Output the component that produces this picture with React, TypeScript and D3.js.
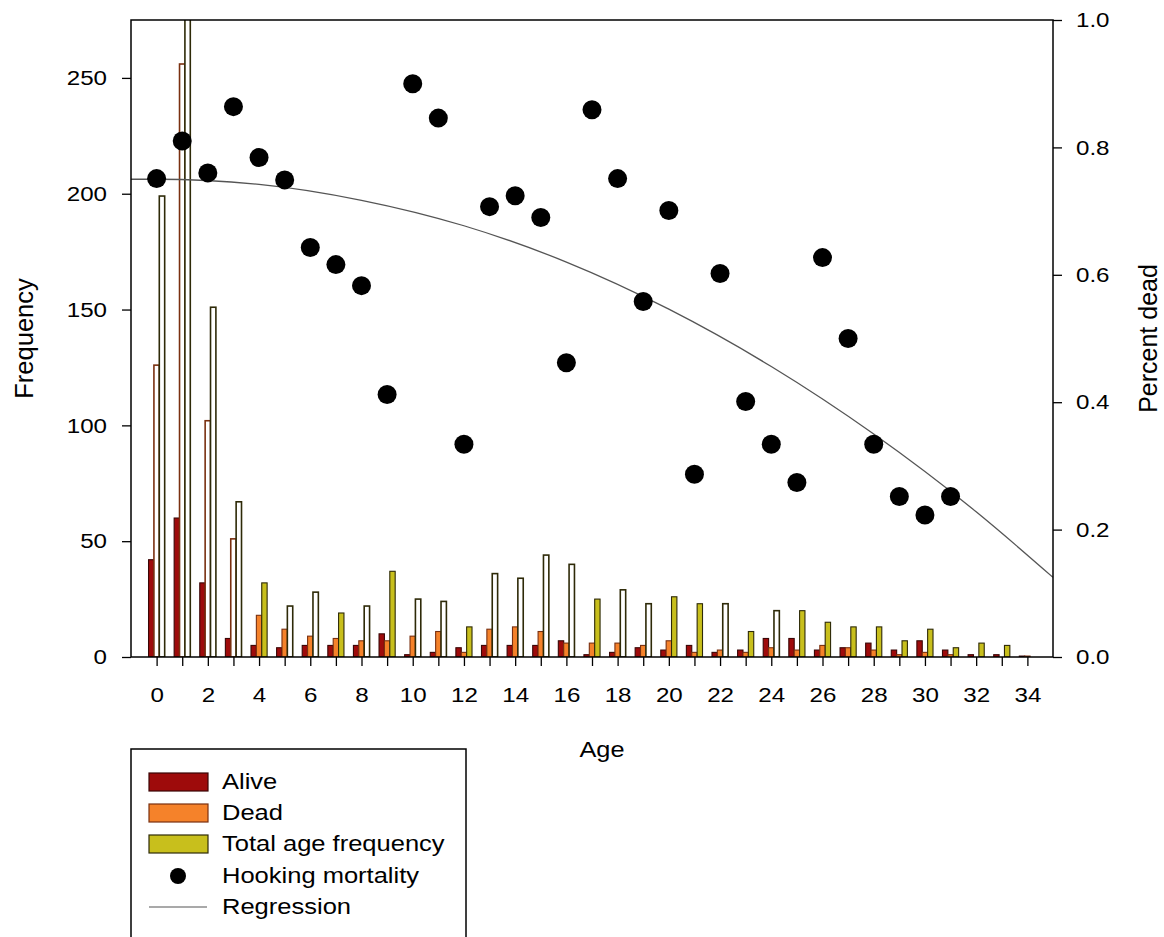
import { useEffect, useRef } from "react";
import * as d3 from "d3";

// ages 0..34
const ages = [0, 1, 2, 3, 4, 5, 6, 7, 8, 9, 10, 11, 12, 13, 14, 15, 16, 17, 18, 19, 20, 21, 22, 23, 24, 25, 26, 27, 28, 29, 30, 31, 32, 33, 34];
const alive = [42, 60, 32, 8, 5, 4, 5, 5, 5, 10, 1, 2, 4, 5, 5, 5, 7, 1, 2, 4, 3, 5, 2, 3, 8, 8, 3, 4, 6, 3, 7, 3, 1, 1, 0.4];
const dead = [126, 256, 102, 51, 18, 12, 9, 8, 7, 7, 9, 11, 2, 12, 13, 11, 6, 6, 6, 5, 7, 2, 3, 2, 4, 3, 5, 4, 3, 1, 2, 1, 0, 0, 0.4];
const totalFreq = [199, 276, 151, 67, 32, 22, 28, 19, 22, 37, 25, 24, 13, 36, 34, 44, 40, 25, 29, 23, 26, 23, 23, 11, 20, 20, 15, 13, 13, 7, 12, 4, 6, 5, 0];

// hooking mortality (percent dead), ages 0..31
const pctDead = [0.751, 0.81, 0.76, 0.864, 0.784, 0.749, 0.643, 0.616, 0.583, 0.412, 0.9, 0.846, 0.334, 0.707, 0.724, 0.69, 0.462, 0.859, 0.751, 0.558, 0.701, 0.287, 0.602, 0.401, 0.334, 0.274, 0.627, 0.5, 0.334, 0.252, 0.223, 0.252];

// regression curve
const regAges = [-1, 0, 4, 8, 12, 16, 20, 24, 28, 32, 35];
const regVals = [0.75, 0.75, 0.742, 0.717, 0.677, 0.62, 0.546, 0.456, 0.35, 0.228, 0.125];

// bars that print as outlines only in the scan
const hollowDead = [0, 1, 2, 3];
const hollowTotal = [0, 1, 2, 3, 5, 6, 8, 10, 11, 13, 14, 15, 16, 18, 19, 22, 24];

const leftTicks = [0, 50, 100, 150, 200, 250];
const rightTicks = [0, 0.2, 0.4, 0.6, 0.8, 1.0];

const FONT = "'Liberation Sans', Arial, sans-serif";
const SX = 1.15; // the scan's glyphs are a bit wide

const App = () => {
  const ref = useRef<SVGSVGElement>(null);

  useEffect(() => {
    const el = ref.current;
    if (!el) return;
    const svg = d3.select(el);
    svg.selectAll("*").remove();

    const L = 131, R = 1053, T = 20, B = 657;

    const x = d3.scaleLinear().domain([-1, 35]).range([L, R]);
    const yL = d3.scaleLinear().domain([0, 275]).range([B, T]);
    const yR = d3.scaleLinear().domain([0, 1]).range([B, T]);

    svg.append("defs").append("clipPath").attr("id", "plotClip")
      .append("rect").attr("x", L).attr("y", T).attr("width", R - L).attr("height", B - T);

    // ── Bars ─────────────────────────────────────────────
    const barW = x(0.21) - x(0);
    const series = [
      { name: "Alive", values: alive, fill: "#9e0b0b", stroke: "#3a0606", hollow: [] as number[] },
      { name: "Dead", values: dead, fill: "#f5822a", stroke: "#7a3010", hollow: hollowDead },
      { name: "Total age frequency", values: totalFreq, fill: "#c8bf1c", stroke: "#2e2a08", hollow: hollowTotal },
    ];

    const barsG = svg.append("g").attr("clip-path", "url(#plotClip)");
    series.forEach((s, i) => {
      barsG.selectAll(`.bar-${i}`)
        .data(ages.filter(a => s.values[a] > 0))
        .enter()
        .append("rect")
        .attr("x", a => x(a) + (i - 1.5) * barW)
        .attr("y", a => yL(s.values[a]))
        .attr("width", barW)
        .attr("height", a => yL(0) - yL(s.values[a]))
        .attr("fill", a => (s.hollow.includes(a) ? "#ffffff" : s.fill))
        .attr("stroke", s.stroke)
        .attr("stroke-width", a => (s.hollow.includes(a) ? 1.6 : 1.1));
    });

    // ── Regression ───────────────────────────────────────
    const line = d3.line<number>()
      .x((_, i) => x(regAges[i]))
      .y(d => yR(d))
      .curve(d3.curveMonotoneX);
    svg.append("path")
      .attr("d", line(regVals))
      .attr("fill", "none")
      .attr("stroke", "#555")
      .attr("stroke-width", 1.3);

    // ── Points ───────────────────────────────────────────
    svg.append("g").selectAll("circle")
      .data(pctDead)
      .enter()
      .append("circle")
      .attr("cx", (_, i) => x(ages[i]))
      .attr("cy", d => yR(d))
      .attr("r", 9.5)
      .attr("fill", "#000");

    // ── Axes ─────────────────────────────────────────────
    const styleAxis = (g: any) => {
      g.select(".domain").remove();
      g.selectAll("line").attr("stroke", "#000").attr("stroke-width", 1.3);
      g.selectAll("text")
        .style("font-family", FONT).style("font-size", "21px").attr("fill", "#000")
        .attr("x", function (this: SVGTextElement) { return +(this.getAttribute("x") || 0) / SX; })
        .attr("transform", `scale(${SX},1)`);
    };

    svg.append("g").attr("transform", `translate(${L},0)`)
      .call(d3.axisLeft(yL).tickValues(leftTicks).tickSize(9).tickPadding(15))
      .call(styleAxis);

    svg.append("g").attr("transform", `translate(${R},0)`)
      .call(d3.axisRight(yR).tickValues(rightTicks).tickSize(9).tickPadding(14).tickFormat(d3.format(".1f")))
      .call(styleAxis);

    svg.append("g").attr("transform", `translate(0,${B})`)
      .call(d3.axisBottom(x).tickValues(ages).tickSize(9).tickPadding(21)
        .tickFormat(d => ((d as number) % 2 === 0 ? String(d) : "")))
      .call(styleAxis);

    // frame
    svg.append("rect")
      .attr("x", L).attr("y", T).attr("width", R - L).attr("height", B - T)
      .attr("fill", "none").attr("stroke", "#000").attr("stroke-width", 1.5);

    // ── Axis titles ──────────────────────────────────────
    svg.append("text")
      .attr("transform", `translate(33,${(T + B) / 2}) rotate(-90)`)
      .attr("text-anchor", "middle")
      .style("font-family", FONT).style("font-size", "25.5px")
      .text("Frequency");

    svg.append("text")
      .attr("transform", `translate(1157,${(T + B) / 2}) rotate(-90)`)
      .attr("text-anchor", "middle")
      .style("font-family", FONT).style("font-size", "25px")
      .text("Percent dead");

    svg.append("text")
      .attr("transform", `translate(602,757) scale(${SX},1)`)
      .attr("text-anchor", "middle")
      .style("font-family", FONT).style("font-size", "22px")
      .text("Age");

    // ── Legend ───────────────────────────────────────────
    const lg = svg.append("g");
    lg.append("rect")
      .attr("x", L).attr("y", 749).attr("width", 335).attr("height", 220)
      .attr("fill", "none").attr("stroke", "#000").attr("stroke-width", 1.5);

    const rowY = [782, 813, 844, 876, 907];
    series.forEach((s, i) => {
      lg.append("rect")
        .attr("x", 149).attr("y", rowY[i] - 9).attr("width", 59).attr("height", 18)
        .attr("fill", s.fill).attr("stroke", s.stroke).attr("stroke-width", 1.2);
    });
    lg.append("circle").attr("cx", 178).attr("cy", rowY[3]).attr("r", 8).attr("fill", "#000");
    lg.append("line")
      .attr("x1", 149).attr("x2", 207).attr("y1", rowY[4]).attr("y2", rowY[4])
      .attr("stroke", "#555").attr("stroke-width", 1.2);

    const legendLabels = ["Alive", "Dead", "Total age frequency", "Hooking mortality", "Regression"];
    legendLabels.forEach((t, i) => {
      lg.append("text")
        .attr("transform", `translate(222,${rowY[i] + 7}) scale(1.16,1)`)
        .style("font-family", FONT).style("font-size", "22px")
        .text(t);
    });

    return () => { svg.selectAll("*").remove(); };
  }, []);

  return (
    <svg
      ref={ref}
      width={1164}
      height={937}
      style={{ position: "absolute", left: 0, top: 0, background: "#fff", display: "block" }}
    />
  );
};

export default App;
